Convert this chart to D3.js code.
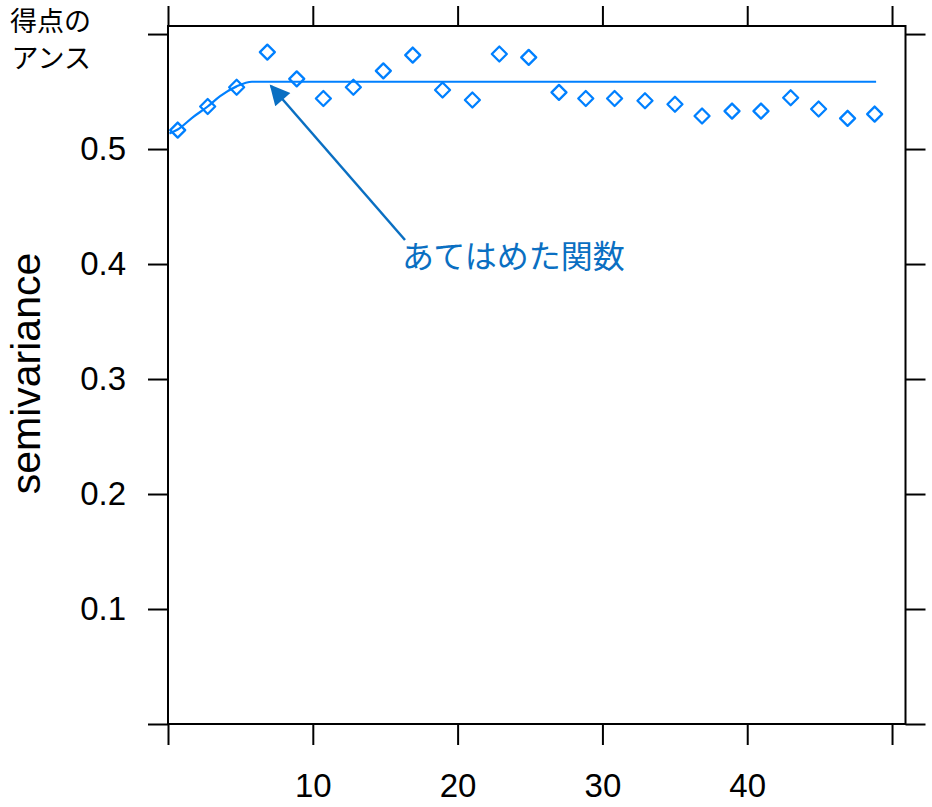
<!DOCTYPE html>
<html>
<head>
<meta charset="utf-8">
<script src="https://cdn.jsdelivr.net/npm/d3@7/dist/d3.min.js"></script>
<style>
  html, body { margin: 0; padding: 0; background: #fff; }
  svg { display: block; }
</style>
</head>
<body>
<svg id="chart" width="932" height="807"></svg>
<script>
// ---- data ----
const distances = [0.67, 2.74, 4.74, 6.86, 8.89, 10.73, 12.80, 14.87, 16.90, 18.96,
                   21.02, 22.88, 24.91, 27.00, 28.85, 30.84, 32.94, 35.01, 36.88, 38.95,
                   40.95, 43.00, 44.93, 46.93, 48.80];
const semivariances = [0.5165, 0.537, 0.5537, 0.5843, 0.561, 0.544, 0.5537, 0.568, 0.5817, 0.5513,
                       0.5426, 0.5826, 0.5797, 0.5493, 0.544, 0.544, 0.542, 0.539, 0.5287, 0.533,
                       0.533, 0.5446, 0.5348, 0.5267, 0.5304];
const fitDist  = [0.1, 0.67, 1.75, 2.74, 3.6, 4.74, 5.8, 48.9];
const fitGamma = [0.5135, 0.517, 0.528, 0.537, 0.546, 0.5545, 0.5585, 0.5585];
const xTicks = [0, 10, 20, 30, 40, 50];
const yTicks = [0, 0.1, 0.2, 0.3, 0.4, 0.5, 0.6];
const xLabelTicks = [10, 20, 30, 40];
const yLabelTicks = [0.1, 0.2, 0.3, 0.4, 0.5];
const yTitle = "semivariance";
const annotation = "あてはめた関数";
const cornerLines = ["得点の", "アンス"];
const xDomain = [0, 50.93];
const yDomain = [0, 0.607];

(function () {
// ---- layout ----
const pL = 168, pR = 905.5, pT = 26, pB = 724;
const blue = "#0080ff";
const annBlue = "#0a6fc2";

const svg = d3.select("#chart");
const x = d3.scaleLinear().domain(xDomain).range([pL, pR]);
const y = d3.scaleLinear().domain(yDomain).range([pB, pT]);

const fmtX = d => xLabelTicks.includes(d) ? String(d) : "";
const fmtY = d => yLabelTicks.some(v => Math.abs(v - d) < 1e-9) ? d3.format(".1f")(d) : "";

function styleAxis(g) {
  g.select(".domain").remove();
  g.selectAll(".tick line").attr("stroke", "#000").attr("stroke-width", 2);
  g.selectAll(".tick text")
    .attr("fill", "#000")
    .style("font-family", "'Liberation Sans', Arial, sans-serif")
    .style("font-size", "33px");
}

svg.append("g").attr("transform", `translate(0,${pB})`)
  .call(d3.axisBottom(x).tickValues(xTicks).tickSize(21).tickPadding(29).tickFormat(fmtX))
  .call(styleAxis);
svg.append("g").attr("transform", `translate(0,${pT})`)
  .call(d3.axisTop(x).tickValues(xTicks).tickSize(20).tickFormat(() => ""))
  .call(styleAxis);
svg.append("g").attr("transform", `translate(${pL},0)`)
  .call(d3.axisLeft(y).tickValues(yTicks).tickSize(20).tickPadding(22).tickFormat(fmtY))
  .call(styleAxis);
svg.append("g").attr("transform", `translate(${pR},0)`)
  .call(d3.axisRight(y).tickValues(yTicks).tickSize(20).tickFormat(() => ""))
  .call(styleAxis);

// frame
svg.append("rect")
  .attr("x", pL).attr("y", pT)
  .attr("width", pR - pL).attr("height", pB - pT)
  .attr("fill", "none").attr("stroke", "#000").attr("stroke-width", 2);

// y title
svg.append("text")
  .attr("transform", `translate(40,${(250 + 497) / 2}) rotate(-90)`)
  .attr("text-anchor", "middle")
  .style("font-family", "'Liberation Sans', Arial, sans-serif")
  .style("font-size", "41px")
  .attr("fill", "#000")
  .text(yTitle);

// fitted model line
const fitData = fitDist.map((d, i) => [d, fitGamma[i]]);
svg.append("path")
  .datum(fitData)
  .attr("d", d3.line().x(d => x(d[0])).y(d => y(d[1])).curve(d3.curveMonotoneX))
  .attr("fill", "none").attr("stroke", blue).attr("stroke-width", 2.2);

// sample points (diamonds)
const pts = distances.map((d, i) => [d, semivariances[i]]);
svg.append("g").selectAll("path")
  .data(pts).enter().append("path")
  .attr("transform", d => `translate(${x(d[0])},${y(d[1])})`)
  .attr("d", "M0,-7.5L7.5,0L0,7.5L-7.5,0Z")
  .attr("fill", "none").attr("stroke", blue).attr("stroke-width", 2.3)
  .attr("stroke-linejoin", "round");

// annotation arrow
const defs = svg.append("defs");
defs.append("marker")
  .attr("id", "arrow").attr("viewBox", "0 0 10 10")
  .attr("refX", 9).attr("refY", 5)
  .attr("markerWidth", 9).attr("markerHeight", 8)
  .attr("markerUnits", "strokeWidth")
  .attr("orient", "auto")
  .append("path").attr("d", "M0,0L10,5L0,10Z").attr("fill", annBlue);

svg.append("line")
  .attr("x1", 405).attr("y1", 240)
  .attr("x2", 271).attr("y2", 86)
  .attr("stroke", annBlue).attr("stroke-width", 2.5)
  .attr("marker-end", "url(#arrow)");

svg.append("text")
  .attr("x", 402).attr("y", 268)
  .style("font-family", "'Noto Sans CJK JP', sans-serif")
  .style("font-size", "32px")
  .attr("fill", annBlue)
  .text(annotation);

// corner text (partly cut by the left edge in the reference)
svg.append("g").selectAll("text")
  .data(cornerLines).enter().append("text")
  .attr("x", 91).attr("y", (d, i) => 31 + i * 37)
  .attr("text-anchor", "end")
  .style("font-family", "'Noto Sans CJK JP', sans-serif")
  .style("font-size", "27px")
  .attr("fill", "#000")
  .text(d => d);
})();
</script>
</body>
</html>
